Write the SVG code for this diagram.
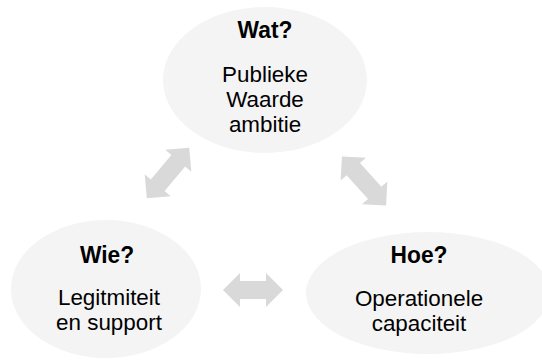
<svg xmlns="http://www.w3.org/2000/svg" width="542" height="360" viewBox="0 0 542 360">
<style>
.node{fill:#f4f4f4}
.arr{fill:#d9d9d9}
text{font-family:"Liberation Sans",Arial,sans-serif;fill:#000;text-anchor:middle;font-size:22.4px}
.t{font-weight:bold;font-size:24px}
</style>
<rect width="542" height="360" fill="#fff"/>
<g id="connectors">
<g transform="translate(253,290)"><polygon class="arr" points="-30,0 -13,-17 -13,-9 13,-9 13,-17 30,0 13,17 13,9 -13,9 -13,17"/></g>
<g transform="translate(168,173) rotate(-50)"><polygon class="arr" points="-33,0 -16,-17 -16,-9 16,-9 16,-17 33,0 16,17 16,9 -16,9 -16,17"/></g>
<g transform="translate(364,181) rotate(48)"><polygon class="arr" points="-33,0 -16,-17 -16,-9 16,-9 16,-17 33,0 16,17 16,9 -16,9 -16,17"/></g>
</g>
<g id="wat">
<ellipse class="node" cx="265" cy="80" rx="102" ry="73"/>
<text class="t" transform="translate(265,38) scale(0.95,1)">Wat?</text>
<text transform="translate(265,82)">Publieke</text>
<text transform="translate(265,107)">Waarde</text>
<text transform="translate(265,132)">ambitie</text>
</g>
<g id="wie">
<ellipse class="node" cx="106" cy="289" rx="95" ry="69"/>
<text class="t" transform="translate(107,263) scale(0.95,1)">Wie?</text>
<text transform="translate(109,305)">Legitmiteit</text>
<text transform="translate(109,330)">en support</text>
</g>
<g id="hoe">
<ellipse class="node" cx="428" cy="293" rx="122" ry="61"/>
<text class="t" transform="translate(419,263) scale(0.95,1)">Hoe?</text>
<text transform="translate(419,306)">Operationele</text>
<text transform="translate(419,331)">capaciteit</text>
</g>
</svg>
